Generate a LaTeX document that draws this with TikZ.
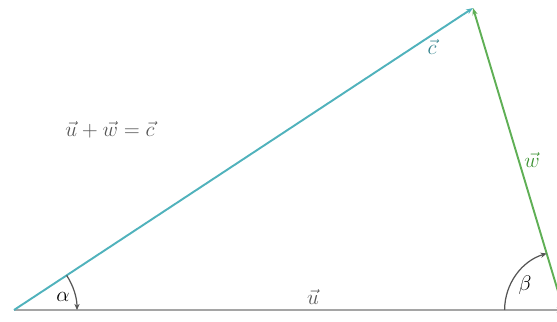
\documentclass[tikz,border=0pt]{standalone}
\usetikzlibrary{arrows.meta}
\definecolor{cline}{RGB}{80,178,188}
\definecolor{ctext}{RGB}{50,130,140}
\definecolor{wline}{RGB}{95,175,85}
\definecolor{wtext}{RGB}{60,145,50}
\definecolor{uline}{RGB}{165,165,165}
\definecolor{angcol}{RGB}{85,85,85}
\tikzset{
  vec/.style={line width=1.1pt, -{Stealth[length=4pt,width=3pt]}},
  angarrow/.style={angcol, line width=0.7pt, -{Stealth[length=3.5pt,width=3pt]}},
  lbl/.style={font=\large}
}
\begin{document}
\begin{tikzpicture}[x=0.02cm,y=0.02cm]
		\useasboundingbox (0,0) rectangle (557,321);
		\coordinate (A) at (14,11);
		\coordinate (B) at (563.6,11);
		\coordinate (C) at (473,313);

		% sides of the triangle
		\draw[vec, uline, line width=1.6pt] (A) -- (B);
		\draw[vec, cline] (A) -- (C);
		\draw[vec, wline] (B) -- (C);

		% angles
		\draw[angarrow] ([shift={(33.3:63)}]A) arc[start angle=33.3, end angle=0, radius=63];
		\draw[angarrow] ([shift={(180:59)}]B) arc[start angle=180, end angle=106.7, radius=59];
		\node (alpha)[lbl] at (63,24) {$\alpha$};
		\node (beta)[lbl] at (525,36) {$\beta$};

		% labels
		\node (ulbl)[lbl, angcol] at (313,24) {$\vec u$};
		\node (clbl)[lbl, ctext] at (432,274) {$\vec c$};
		\node (wlbl)[lbl, wtext] at (532,161) {$\vec w$};
		\node (sum)[lbl, angcol] at (110,191) {$\vec u+\vec w=\vec c$};
	\end{tikzpicture}
\end{document}
